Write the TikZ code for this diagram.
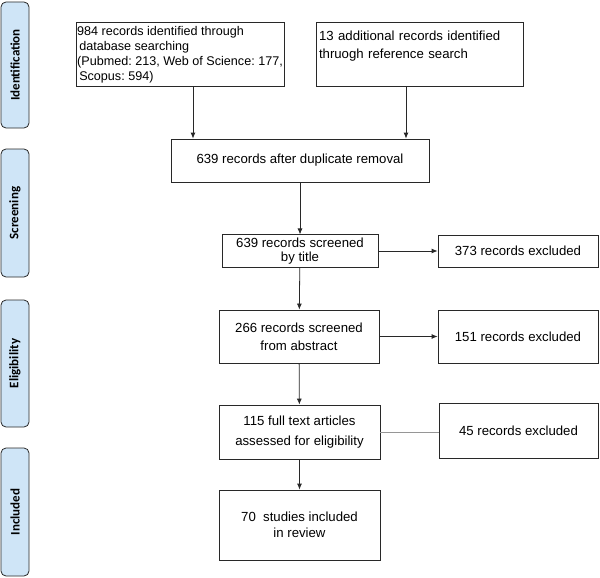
\documentclass[tikz,border=0pt]{standalone}
\usepackage{fontspec}
\setmainfont{Liberation Sans}
\newfontfamily\tabfont{Carlito}
\usepackage{xcolor}
\usetikzlibrary{arrows.meta}
\frenchspacing
\definecolor{tabblue}{RGB}{207,229,247}
\definecolor{edgegray}{RGB}{40,40,40}
\definecolor{lightline}{RGB}{150,150,150}

\tikzset{
    box/.style = {draw = edgegray, line width = 0.8pt, rectangle, inner sep = 3pt,
        align = center, font = \fontsize{13.2}{16}\selectfont},
    phase/.style = {draw = edgegray, fill = tabblue, line width = 0.8pt, rounded corners = 5pt,
        rotate = 90, minimum height = 28pt, inner sep = 0pt,
        font = \tabfont\bfseries\fontsize{13}{15}\selectfont},
    arr/.style = {-{Latex[length = 6pt, width = 5pt]}, draw = edgegray, line width = 0.8pt}
}

\begin{document}
\begin{tikzpicture}[x = 1pt, y = -1pt]
        \useasboundingbox (0, 0) rectangle (600, 578);

        % phases on the left
        \node[phase, minimum width = 126pt] (ident) at (15, 65) {Identification};
        \node[phase, minimum width = 128pt] (screen) at (15, 213) {Screening};
        \node[phase, minimum width = 127pt] (elig) at (15, 363.5) {Eligibility};
        \node[phase, minimum width = 128pt] (incl) at (15, 512) {Included};

        % boxes
        \node[box, align = left, inner xsep = 1pt, minimum width = 208pt, minimum height = 64pt,
            font = \fontsize{12.6}{15}\selectfont] (dbsearch) at (180, 54.5)
            {984 records identified through\\ \,database searching\\(Pubmed: 213, Web of Science: 177,\\ \,Scopus: 594)};
        \node[box, align = left, text width = 201pt, minimum height = 64pt] (refsearch) at (419.5, 54)
            {13 additional records identified\\[2pt]thruogh reference search\\[2pt]\mbox{}};
        \node[box, minimum width = 258pt, minimum height = 43pt] (dupl) at (300, 160.5)
            {639 records after duplicate removal};
        \node[box, minimum width = 156pt, minimum height = 32pt, font = \fontsize{13.2}{14}\selectfont] (bytitle) at (300, 251)
            {639 records screened\\by title};
        \node[box, minimum width = 160pt, minimum height = 32pt] (excltitle) at (518, 251)
            {373 records excluded};
        \node[box, minimum width = 160pt, minimum height = 53pt, font = \fontsize{13.2}{18}\selectfont] (byabstract) at (299, 336.5)
            {266 records screened\\from abstract};
        \node[box, minimum width = 160pt, minimum height = 53pt] (exclabstract) at (518, 336.5)
            {151 records excluded};
        \node[box, minimum width = 161pt, minimum height = 54pt, font = \fontsize{13.2}{20}\selectfont] (fulltext) at (299.5, 432)
            {115 full text articles\\assessed for eligibility};
        \node[box, minimum width = 159pt, minimum height = 55pt] (exclfull) at (518.5, 430.5)
            {45 records excluded};
        \node[box, minimum width = 161pt, minimum height = 70pt] (included) at (299.5, 525)
            {70~ studies included\\in review};

        % connectors
        \draw[arr] ([xshift = 13pt]dbsearch.south) -- ([xshift = 13pt]dbsearch.south |- dupl.north);
        \draw[arr] ([xshift = -13.5pt]refsearch.south) -- ([xshift = -13.5pt]refsearch.south |- dupl.north);
        \draw[arr] (dupl) -- (bytitle);
        \draw[arr] (bytitle) -- (excltitle);
        \draw[arr] (bytitle) -- (byabstract);
        \draw[arr] (byabstract) -- (exclabstract);
        \draw[arr] (byabstract) -- (fulltext);
        \draw[lightline, line width = 1pt] (fulltext.east) -- (exclfull.west |- fulltext.east);
        \draw[arr] (fulltext) -- (included);
    \end{tikzpicture}
\end{document}
